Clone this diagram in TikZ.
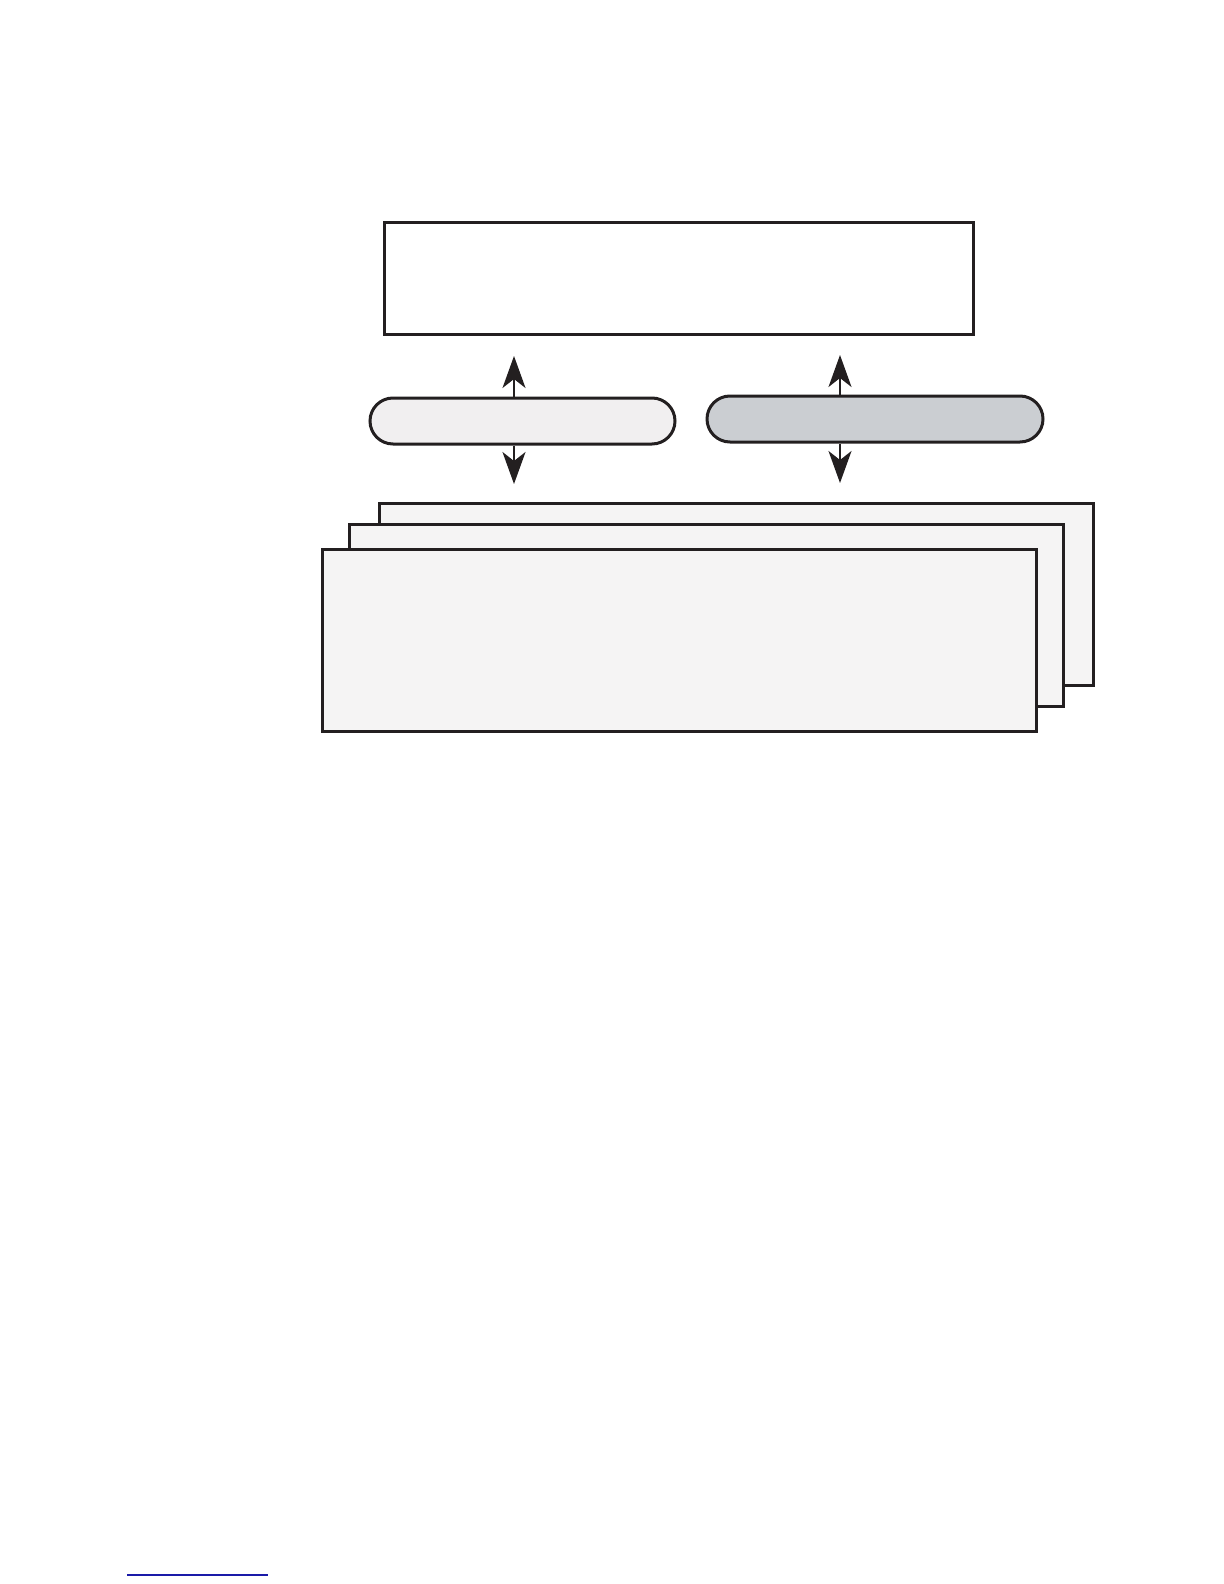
\documentclass[tikz,border=0pt]{standalone}
\usetikzlibrary{arrows.meta}
\definecolor{pillA}{HTML}{F1EFF0}
\definecolor{pillB}{HTML}{CBCED2}
\definecolor{sheet}{HTML}{F5F4F4}
\definecolor{edge}{HTML}{231F20}
\definecolor{linkblue}{HTML}{1A1AA8}
\begin{document}
\begin{tikzpicture}[x=0.5pt,y=-0.5pt,
  box/.style={draw=edge,line width=1.5pt,inner sep=0pt},
  pill/.style={box,rounded corners=11.5pt,minimum height=23pt},
  sheetbox/.style={box,fill=sheet,minimum width=357pt,minimum height=91pt},
  arr/.style={draw=edge,line width=1pt,-{Stealth[length=16pt,width=11.5pt,inset=4.5pt]}}]
\useasboundingbox (0,0) rectangle (1224,1584);
% top box
\node[box,fill=white,minimum width=294.5pt,minimum height=56pt] (top) at (678.5,278) {};
% pills
\node[pill,fill=pillA,minimum width=152.5pt] (pA) at (522.5,421) {};
\node[pill,fill=pillB,minimum width=168pt] (pB) at (875,419) {};
% stacked sheets
\node[sheetbox] (s3) at (736,594) {};
\node[sheetbox] (s2) at (706,615) {};
\node[sheetbox] (s1) at (679,640) {};
% arrow end points
\coordinate (aU) at (514,356);
\coordinate (aD) at (514,484);
\coordinate (bU) at (840,355);
\coordinate (bD) at (840,483);
\draw[arr] (pA.north -| aU) -- (aU);
\draw[arr] (pA.south -| aD) -- (aD);
\draw[arr] (pB.north -| bU) -- (bU);
\draw[arr] (pB.south -| bD) -- (bD);
% footer rule
\draw[linkblue,line width=1pt] (127,1575) -- (268,1575);
\end{tikzpicture}
\end{document}
